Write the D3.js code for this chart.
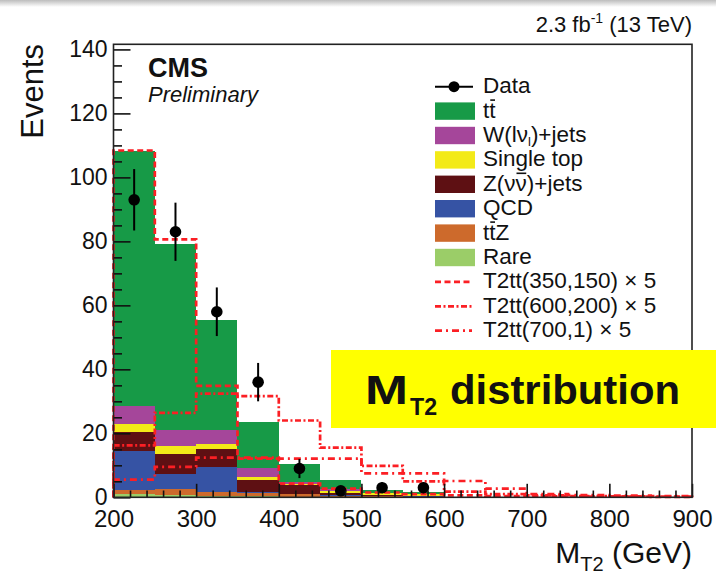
<!DOCTYPE html>
<html>
<head>
<meta charset="utf-8">
<script src="https://cdn.jsdelivr.net/npm/d3@7"></script>
<style>
  body { margin: 0; background: #fff; }
  svg { display: block; }
  text { font-family: "Liberation Sans", Arial, Helvetica, sans-serif; fill: #111; }
</style>
</head>
<body>
<svg id="chart" width="716" height="577"></svg>
<script>
// MT2 bins (lower edges, GeV), 50 GeV wide
const binLow = [200, 250, 300, 350, 400, 450, 500, 550, 600, 650, 700, 750, 800, 850];
const binWidth = 50;

// Stacked backgrounds, bottom to top
const rare      = [0.9, 0.7, 0.5, 0.3, 0.2, 0.1, 0.05, 0.05, 0, 0, 0, 0, 0, 0];
const ttZ       = [1.3, 1.8, 1.2, 1.0, 0.7, 0.4, 0.25, 0.2, 0, 0, 0, 0, 0, 0];
const qcd       = [12.3, 4.7, 7.8, 0.5, 0.2, 0.1, 0.1, 0.05, 0, 0, 0, 0, 0, 0];
const zinv      = [5.9, 6.4, 5.7, 3.5, 2.6, 0.9, 0.3, 0.2, 0, 0, 0, 0, 0, 0];
const singleTop = [2.4, 2.4, 1.6, 1.0, 0.4, 0.5, 0.5, 0.4, 0, 0, 0, 0, 0, 0];
const wjets     = [5.7, 4.9, 4.1, 3.0, 0.7, 0.6, 0.2, 0.2, 0, 0, 0, 0, 0, 0];
const ttbar     = [79.9, 58.3, 34.4, 14.2, 5.7, 2.7, 1.0, 0.6, 0, 0, 0, 0, 0, 0];

// Observed events and their error bars
const dataCounts = [93, 83, 58, 36, 9, 2, 3, 3];
const dataErrors = [9.6, 9.1, 7.6, 6.0, 3.0, 1.4, 1.7, 1.7];

// Signal points, scaled by 5
const sig350_150 = [108.4, 80.6, 34.8, 12.1, 4.3, 2.7, 1.5, 1.0, 0.6, 0.4, 0.3, 0.2, 0.2, 0.1];
const sig600_200 = [16.2, 26.4, 32.4, 31.6, 24.0, 15.5, 9.8, 5.0, 1.8, 1.0, 0.6, 0.4, 0.3, 0.2];
const sig700_1   = [5.5, 9.5, 12.4, 12.4, 12.1, 12.1, 7.5, 7.5, 5.1, 2.7, 1.0, 0.7, 0.5, 0.4];

// Axis ticks
const xMajorTicks = [200, 300, 400, 500, 600, 700, 800, 900];
const yMajorTicks = [0, 20, 40, 60, 80, 100, 120, 140];

const bgKeys = ["rare", "ttZ", "qcd", "zinv", "singleTop", "wjets", "ttbar"];
const bgColors = {
  rare: "#9bcd68", ttZ: "#cd6a2c", qcd: "#3653a4", zinv: "#5e1013",
  singleTop: "#f3ea18", wjets: "#a5469a", ttbar: "#179a47"
};
const sigColor = "#fb1f24";
const sigStyles = [
  { values: sig350_150, dash: "6,3.5" },
  { values: sig600_200, dash: "6,2.5,2,2.5" },
  { values: sig700_1,   dash: "7,4,2,4" }
];

const svg = d3.select("#chart");

// Light shading along the top edge of the slide
const defs = svg.append("defs");
const grad = defs.append("linearGradient").attr("id", "topShade")
  .attr("x1", 0).attr("y1", 0).attr("x2", 0).attr("y2", 1);
grad.append("stop").attr("offset", "0%").attr("stop-color", "#bdbdbd");
grad.append("stop").attr("offset", "100%").attr("stop-color", "#ffffff");
svg.append("rect").attr("x", 0).attr("y", 0).attr("width", 716).attr("height", 7)
  .attr("fill", "url(#topShade)");

const x = d3.scaleLinear().domain([200, 900]).range([113.5, 692]);
const y = d3.scaleLinear().domain([0, 141.6]).range([497.3, 44.3]);

// Stacked background histograms
const table = binLow.map((b, i) => ({
  bin: b, rare: rare[i], ttZ: ttZ[i], qcd: qcd[i], zinv: zinv[i],
  singleTop: singleTop[i], wjets: wjets[i], ttbar: ttbar[i]
}));
const stacked = d3.stack().keys(bgKeys)(table);

const gStack = svg.append("g");
stacked.forEach(layer => {
  gStack.selectAll(null)
    .data(layer.filter(d => d[1] - d[0] > 0))
    .join("rect")
    .attr("x", d => x(d.data.bin))
    .attr("width", d => x(d.data.bin + binWidth) - x(d.data.bin))
    .attr("y", d => y(d[1]))
    .attr("height", d => y(d[0]) - y(d[1]))
    .attr("fill", bgColors[layer.key])
    .attr("shape-rendering", "crispEdges");
});

// Signal step outlines
const stepLine = d3.line().x(d => x(d[0])).y(d => y(d[1]));
function stepPoints(vals) {
  const pts = [[binLow[0], 0]];
  vals.forEach((v, i) => { pts.push([binLow[i], v]); pts.push([binLow[i] + binWidth, v]); });
  pts.push([binLow[binLow.length - 1] + binWidth, 0]);
  return pts;
}
sigStyles.forEach(s => {
  svg.append("path")
    .attr("d", stepLine(stepPoints(s.values)))
    .attr("fill", "none")
    .attr("stroke", sigColor)
    .attr("stroke-width", 2.7)
    .attr("stroke-dasharray", s.dash);
});

// Data points with error bars
const gData = svg.append("g");
dataCounts.forEach((n, i) => {
  const cx = x(binLow[i] + binWidth / 2);
  gData.append("line")
    .attr("x1", cx).attr("x2", cx)
    .attr("y1", y(n + dataErrors[i])).attr("y2", y(Math.max(0, n - dataErrors[i])))
    .attr("stroke", "#000").attr("stroke-width", 2);
  gData.append("circle").attr("cx", cx).attr("cy", y(n)).attr("r", 5.8).attr("fill", "#000");
});

// Axes: ticks point into the frame
const yMinor = d3.range(0, 141, 5).filter(v => v % 20 !== 0);
const xMinor = d3.range(200, 901, 20).filter(v => v % 100 !== 0);

const gy = svg.append("g").attr("transform", "translate(113.5,0)")
  .call(d3.axisLeft(y).tickValues(yMajorTicks).tickSize(-17).tickPadding(6).tickFormat(d3.format("d")));
svg.append("g").attr("transform", "translate(113.5,0)")
  .call(d3.axisLeft(y).tickValues(yMinor).tickSize(-8.5).tickFormat(""));
const gx = svg.append("g").attr("transform", "translate(0,497.3)")
  .call(d3.axisBottom(x).tickValues(xMajorTicks).tickSize(-13.5).tickPadding(13).tickFormat(d3.format("d")));
svg.append("g").attr("transform", "translate(0,497.3)")
  .call(d3.axisBottom(x).tickValues(xMinor).tickSize(-6.8).tickFormat(""));

svg.selectAll(".domain").remove();
svg.selectAll(".tick line").attr("stroke", "#111").attr("stroke-width", 1.6);
gy.selectAll(".tick text").attr("font-size", 23).attr("fill", "#111")
  .attr("font-family", "Liberation Sans, Arial, sans-serif");
gx.selectAll(".tick text").attr("font-size", 24).attr("fill", "#111")
  .attr("font-family", "Liberation Sans, Arial, sans-serif");

// Frame
svg.append("rect")
  .attr("x", 113.5).attr("y", 44.3)
  .attr("width", 692 - 113.5).attr("height", 497.3 - 44.3)
  .attr("fill", "none").attr("stroke", "#222").attr("stroke-width", 1.6);

// Axis titles
svg.append("text")
  .attr("transform", "translate(43,44) rotate(-90)")
  .attr("text-anchor", "end").attr("font-size", 31).text("Events");

const xt = svg.append("text").attr("x", 692).attr("y", 563)
  .attr("text-anchor", "end").attr("font-size", 30);
xt.append("tspan").text("M");
xt.append("tspan").attr("font-size", 20).attr("dy", 8).text("T2");
xt.append("tspan").attr("dy", -8).text(" (GeV)");

// Luminosity label
const lumi = svg.append("text").attr("x", 692).attr("y", 32)
  .attr("text-anchor", "end").attr("font-size", 22);
lumi.append("tspan").text("2.3 fb");
lumi.append("tspan").attr("font-size", 14).attr("dy", -9).text("-1");
lumi.append("tspan").attr("dy", 9).text(" (13 TeV)");

svg.append("text").attr("x", 148).attr("y", 77).attr("font-size", 27)
  .attr("font-weight", "bold").text("CMS");
svg.append("text").attr("x", 148).attr("y", 102).attr("font-size", 22)
  .attr("font-style", "italic").text("Preliminary");

// Legend
const legendRows = [
  { type: "data", parts: [["Data"]] },
  { type: "fill", key: "ttbar", parts: [["t"], ["t", "over"]] },
  { type: "fill", key: "wjets", parts: [["W(lν"], ["l", "sub"], [")+jets"]] },
  { type: "fill", key: "singleTop", parts: [["Single top"]] },
  { type: "fill", key: "zinv", parts: [["Z(ν"], ["ν", "over"], [")+jets"]] },
  { type: "fill", key: "qcd", parts: [["QCD"]] },
  { type: "fill", key: "ttZ", parts: [["t"], ["t", "over"], ["Z"]] },
  { type: "fill", key: "rare", parts: [["Rare"]] },
  { type: "line", dash: sigStyles[0].dash, parts: [["T2tt(350,150) × 5"]] },
  { type: "line", dash: sigStyles[1].dash, parts: [["T2tt(600,200) × 5"]] },
  { type: "line", dash: sigStyles[2].dash, parts: [["T2tt(700,1) × 5"]] }
];
const legTop = 86.7, legStep = 24.4;
const gLeg = svg.append("g");
legendRows.forEach((row, i) => {
  const cy = legTop + i * legStep;
  if (row.type === "data") {
    gLeg.append("line").attr("x1", 435).attr("x2", 473).attr("y1", cy).attr("y2", cy)
      .attr("stroke", "#000").attr("stroke-width", 2);
    gLeg.append("circle").attr("cx", 454).attr("cy", cy).attr("r", 5.5).attr("fill", "#000");
  } else if (row.type === "fill") {
    gLeg.append("rect").attr("x", 435).attr("y", cy - 8.7).attr("width", 40).attr("height", 17.4)
      .attr("fill", bgColors[row.key]);
  } else {
    gLeg.append("line").attr("x1", 435).attr("x2", 472).attr("y1", cy).attr("y2", cy)
      .attr("stroke", sigColor).attr("stroke-width", 2.7).attr("stroke-dasharray", row.dash);
  }
  const baseY = cy + 6.5;
  const t = gLeg.append("text").attr("x", 483).attr("y", baseY).attr("font-size", 22.5);
  let shifted = 0, charIndex = 0;
  const bars = [];
  row.parts.forEach(([txt, mode]) => {
    const sp = t.append("tspan").text(txt);
    if (mode === "over") bars.push(charIndex);
    if (mode === "sub") { sp.attr("font-size", 13).attr("dy", 3.5); shifted = 3.5; }
    else if (shifted) { sp.attr("dy", -shifted); shifted = 0; }
    charIndex += txt.length;
  });
  // bar over antiparticle symbols
  bars.forEach(ci => {
    const ext = t.node().getExtentOfChar(ci);
    gLeg.append("line")
      .attr("x1", ext.x + 1).attr("x2", ext.x + ext.width - 0.5)
      .attr("y1", baseY - 17.5).attr("y2", baseY - 17.5)
      .attr("stroke", "#111").attr("stroke-width", 1.6);
  });
});

// Highlight banner
svg.append("rect").attr("x", 331).attr("y", 350).attr("width", 385).attr("height", 78)
  .attr("fill", "#ffff00");
const banner = { family: "Lato, 'Open Sans', sans-serif", weight: 700 };
svg.append("text").attr("x", 365).attr("y", 403.5).attr("font-size", 40)
  .attr("font-family", banner.family).attr("font-weight", banner.weight)
  .attr("textLength", 43).attr("lengthAdjust", "spacingAndGlyphs").attr("fill", "#000").text("M");
svg.append("text").attr("x", 410).attr("y", 415).attr("font-size", 24)
  .attr("font-family", banner.family).attr("font-weight", banner.weight)
  .attr("textLength", 27).attr("lengthAdjust", "spacingAndGlyphs").attr("fill", "#000").text("T2");
svg.append("text").attr("x", 450).attr("y", 403.5).attr("font-size", 40)
  .attr("font-family", banner.family).attr("font-weight", banner.weight)
  .attr("textLength", 230).attr("lengthAdjust", "spacingAndGlyphs").attr("fill", "#000").text("distribution");
</script>
</body>
</html>
